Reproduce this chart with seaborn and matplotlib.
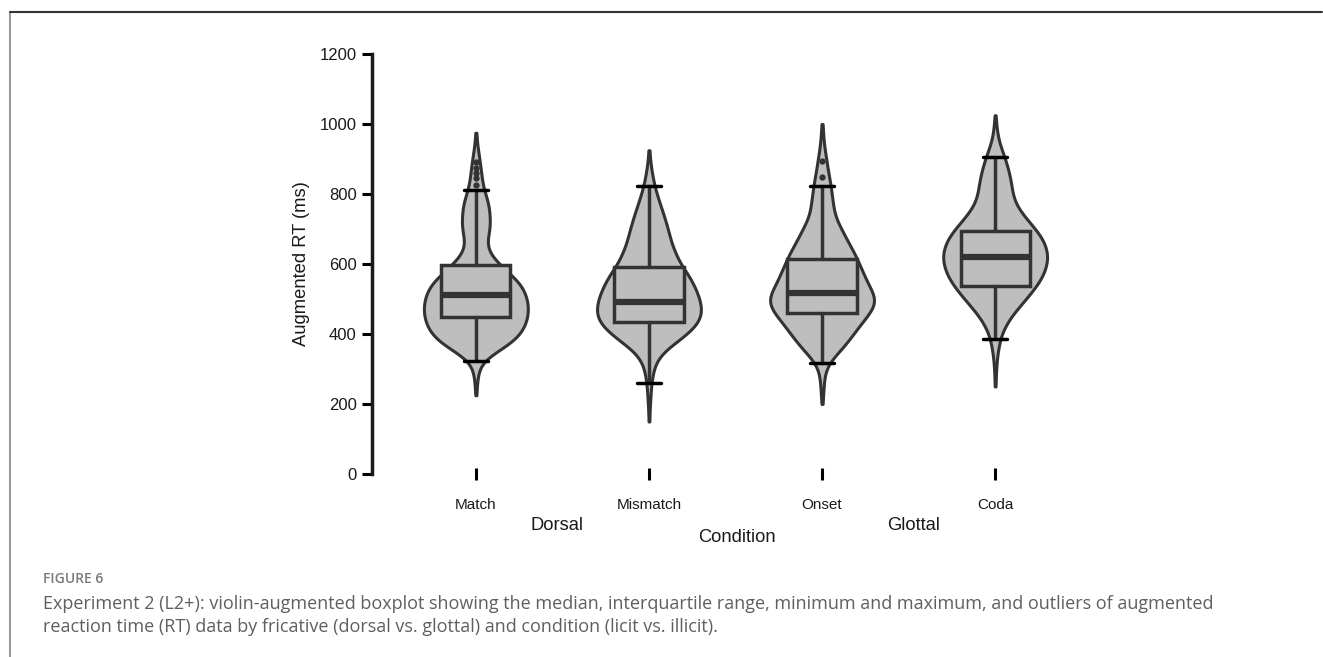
import numpy as np
import pandas as pd
import matplotlib
matplotlib.use("Agg")
import matplotlib.pyplot as plt
from matplotlib.lines import Line2D
import seaborn as sns

# ---------------- data ----------------
conditions = ["Match", "Mismatch", "Onset", "Coda"]
fricatives = ["Dorsal", "Glottal"]

# RT grid (ms) and relative density heights
rt_grid = [150, 175, 200, 225, 250, 275, 300, 325, 350, 375, 400, 425, 450, 475,
           500, 525, 550, 575, 600, 625, 650, 675, 700, 725, 750, 775, 800, 825,
           850, 875, 900, 925, 950, 975, 1000, 1025]

match_density = [0, 0, 0, 1, 2, 3, 6, 14, 40, 68, 85, 94, 99, 100,
                 98, 92, 82, 62, 45, 28, 21, 22, 27, 27, 26, 24, 18, 13,
                 11, 9, 7, 4, 2, 1, 0, 0]
mismatch_density = [1, 1, 2, 3, 4, 6, 9, 15, 28, 50, 72, 90, 99, 100,
                    96, 90, 82, 72, 60, 52, 45, 40, 36, 31, 26, 20, 15, 10,
                    7, 4, 2, 1, 0, 0, 0, 0]
onset_density = [0, 0, 1, 2, 3, 4, 7, 16, 32, 46, 58, 70, 83, 96,
                 100, 92, 83, 76, 69, 62, 53, 44, 36, 27, 22, 20, 18, 16,
                 13, 10, 8, 5, 3, 2, 1, 0]
coda_density = [0, 0, 0, 0, 1, 1, 2, 3, 5, 8, 12, 20, 30, 44,
                58, 72, 84, 93, 98, 100, 96, 89, 76, 62, 48, 38, 33, 31,
                28, 24, 19, 13, 7, 4, 2, 1]

# boxplot statistics (ms)
box_q1 = [449, 434, 460, 537]
box_median = [511, 491, 517, 620]
box_q3 = [597, 591, 614, 694]
whisker_low = [323, 260, 317, 386]
whisker_high = [811, 823, 823, 906]
outliers = [[826, 846, 860, 874, 891], [], [849, 895], []]

y_ticks = [0, 200, 400, 600, 800, 1000, 1200]

caption_title = "FIGURE 6"
caption_line1 = ("Experiment 2 (L2+): violin-augmented boxplot showing the median, interquartile range, "
                 "minimum and maximum, and outliers of augmented")
caption_line2 = ("reaction time (RT) data by fricative (dorsal vs. glottal) and condition "
                 "(licit vs. illicit).")

# ---------------- build the long table ----------------
densities = [match_density, mismatch_density, onset_density, coda_density]
rows = []
for cond, dens in zip(conditions, densities):
    vals = np.repeat(np.array(rt_grid), np.array(dens))
    rows.append(pd.DataFrame({"condition": cond, "rt": vals}))
df = pd.concat(rows, ignore_index=True)

# ---------------- figure ----------------
sns.set_theme(style="white")
plt.rcParams["font.family"] = ["Liberation Sans", "DejaVu Sans"]

W, H = 1323, 657
fig = plt.figure(figsize=(W / 100, H / 100), dpi=100)
fig.patch.set_facecolor("white")
ax = fig.add_axes([372 / W, 1 - 474 / H, (1099 - 372) / W, (474 - 54) / H])

sns.violinplot(data=df, x="condition", y="rt", order=conditions, ax=ax,
               color="#BEBEBE", saturation=1, linecolor="#333333", linewidth=2.2,
               inner=None, cut=0, density_norm="width", width=0.6,
               bw_method=0.16)

stats = []
for i in range(len(conditions)):
    stats.append(dict(med=box_median[i], q1=box_q1[i], q3=box_q3[i],
                      whislo=whisker_low[i], whishi=whisker_high[i],
                      fliers=outliers[i]))
ax.bxp(stats, positions=list(range(len(conditions))), widths=0.4,
       patch_artist=True, manage_ticks=False, capwidths=0.14, zorder=5,
       boxprops=dict(facecolor="#BEBEBE", edgecolor="#333333", linewidth=2.5),
       medianprops=dict(color="#333333", linewidth=4.5, solid_capstyle="butt"),
       whiskerprops=dict(color="#333333", linewidth=2.5),
       capprops=dict(color="black", linewidth=2.5),
       flierprops=dict(marker="o", markersize=3.5, markerfacecolor="#333333",
                       markeredgecolor="#333333", linestyle="none"))

ax.set_xlim(-0.6, 3.6)
ax.set_ylim(0, 1200)
ax.set_yticks(y_ticks)
ax.set_yticklabels([str(t) for t in y_ticks], fontsize=12, color="#1a1a1a")
ax.set_xticks(range(len(conditions)))
ax.set_xticklabels(conditions, fontsize=11, color="#1a1a1a")
ax.tick_params(axis="y", direction="out", length=7, width=2.2, color="black", pad=4,
               left=True)
ax.tick_params(axis="x", direction="inout", length=9, width=2.2, color="black", pad=13,
               bottom=True)

for s in ["top", "right", "bottom"]:
    ax.spines[s].set_visible(False)
ax.spines["left"].set_color("#1a1a1a")
ax.spines["left"].set_linewidth(2.5)

ax.set_xlabel("")
ax.set_ylabel("Augmented RT (ms)", fontsize=13.2, color="#1a1a1a")
ax.yaxis.set_label_coords((310 - 372) / 727, 0.5)

# fricative group labels and axis title
trans = ax.get_xaxis_transform()
ax.text(0.47, -(525 - 474) / 420, fricatives[0], transform=trans, ha="center", va="center",
        fontsize=13.2, color="#1a1a1a")
ax.text(2.53, -(525 - 474) / 420, fricatives[1], transform=trans, ha="center", va="center",
        fontsize=13.2, color="#1a1a1a")
ax.text(1.51, -(537 - 474) / 420, "Condition", transform=trans, ha="center", va="center",
        fontsize=13.2, color="#1a1a1a")

# frame lines
fig.add_artist(Line2D([10 / W, 10 / W], [0, 1 - 12 / H], transform=fig.transFigure,
                      color="#9a9a9a", linewidth=1.5))
fig.add_artist(Line2D([10 / W, 1322 / W], [1 - 12 / H, 1 - 12 / H], transform=fig.transFigure,
                      color="#333333", linewidth=1.5))

# caption
cap_font = ["Open Sans", "DejaVu Sans"]
fig.text(43 / W, 1 - 579 / H, caption_title, fontsize=10, color="#7a7a7a",
         family=cap_font, fontweight="semibold", va="center", ha="left")
fig.text(43 / W, 1 - 604 / H, caption_line1, fontsize=13, color="#5f5f5f",
         family=cap_font, va="center", ha="left")
fig.text(43 / W, 1 - 627 / H, caption_line2, fontsize=13, color="#5f5f5f",
         family=cap_font, va="center", ha="left")

fig.savefig("out.png", dpi=100, facecolor="white")
